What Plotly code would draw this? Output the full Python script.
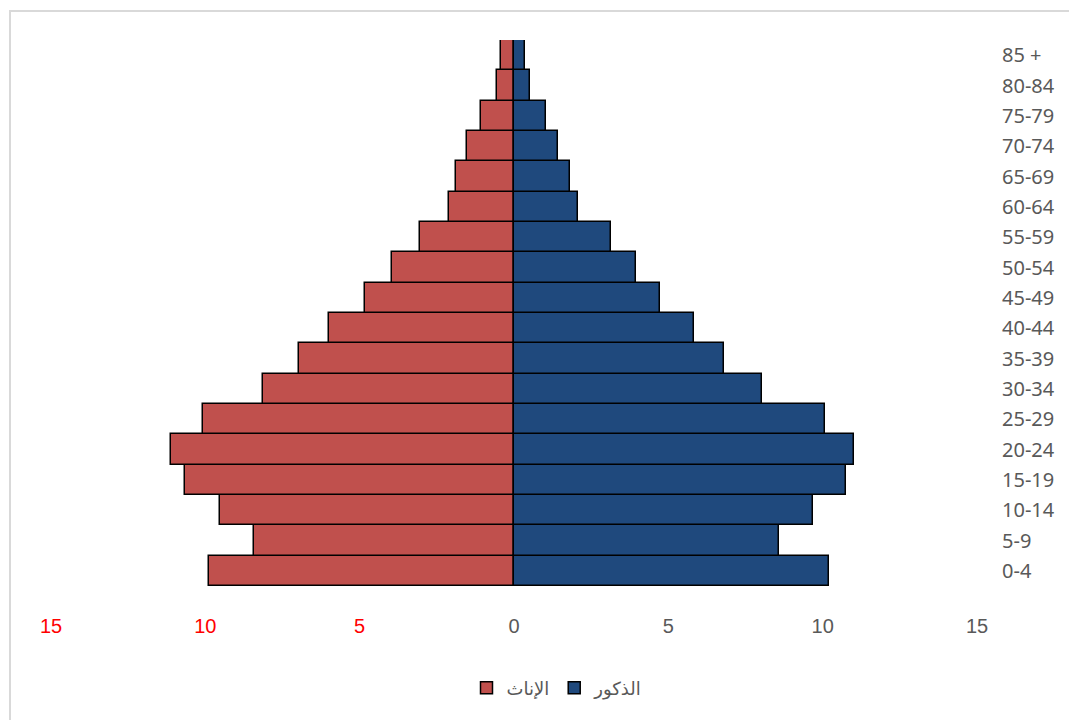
import plotly.graph_objects as go

age_groups = ["0-4", "5-9", "10-14", "15-19", "20-24", "25-29", "30-34", "35-39",
              "40-44", "45-49", "50-54", "55-59", "60-64", "65-69", "70-74",
              "75-79", "80-84", "85 +"]
females = [9.87, 8.41, 9.51, 10.65, 11.1, 10.06, 8.12, 6.98, 6.0, 4.84, 3.96,
           3.05, 2.11, 1.88, 1.53, 1.07, 0.55, 0.42]
males = [10.19, 8.57, 9.68, 10.75, 11.0, 10.06, 8.02, 6.79, 5.84, 4.74, 3.96,
         3.15, 2.08, 1.82, 1.43, 1.04, 0.52, 0.36]
female_name = "الإناث"
male_name = "الذكور"
x_tick_vals = [-15, -10, -5, 0, 5, 10, 15]
x_tick_text = ['<span style="color:#FF0000">15</span>',
               '<span style="color:#FF0000">10</span>',
               '<span style="color:#FF0000">5</span>',
               "0", "5", "10", "15"]

fig = go.Figure()
fig.add_trace(go.Bar(
    y=age_groups, x=[-v for v in females], orientation="h", name=female_name,
    marker=dict(color="#C0504D", line=dict(color="#000000", width=1.5)),
    customdata=females, hovertemplate="%{y}: %{customdata}<extra></extra>",
))
fig.add_trace(go.Bar(
    y=age_groups, x=males, orientation="h", name=male_name,
    marker=dict(color="#1F497D", line=dict(color="#000000", width=1.5)),
    hovertemplate="%{y}: %{x}<extra></extra>",
))

L, R, T, B = 43, 108, 32, 142
PW, PH = 1077 - L - R, 720 - T - B

fig.update_layout(
    width=1077, height=720,
    margin=dict(l=L, r=R, t=T, b=B),
    paper_bgcolor="white", plot_bgcolor="white",
    barmode="overlay", bargap=0,
    showlegend=True,
    legend=dict(orientation="h", x=(549 - L) / PW, xanchor="center",
                y=(T + PH - 680) / PH, yanchor="middle",
                font=dict(family="DejaVu Sans, Noto Sans", size=18, color="#595959"),
                traceorder="normal", itemwidth=30),
    xaxis=dict(range=[-15, 15], tickvals=x_tick_vals, ticktext=x_tick_text,
               showgrid=False, zeroline=True, zerolinecolor="#D9D9D9", zerolinewidth=2,
               layer="above traces", showline=False, ticks="",
               ticklabelstandoff=26,
               tickfont=dict(family="Liberation Sans Narrow, Liberation Sans", size=20, color="#595959")),
    yaxis=dict(side="right", showgrid=False, zeroline=False, showline=False, ticks="",
               ticklabelstandoff=24, range=[-0.5, 17.5],
               tickfont=dict(family="Noto Sans, Open Sans", size=20, color="#595959")),
    shapes=[dict(type="rect", xref="paper", yref="paper",
                 x0=-(L - 2) / PW, x1=1.3, y0=-0.4, y1=(T + PH - 3) / PH,
                 line=dict(color="#D9D9D9", width=2), fillcolor="rgba(0,0,0,0)", layer="below")],
)

fig.write_html("out.html")
